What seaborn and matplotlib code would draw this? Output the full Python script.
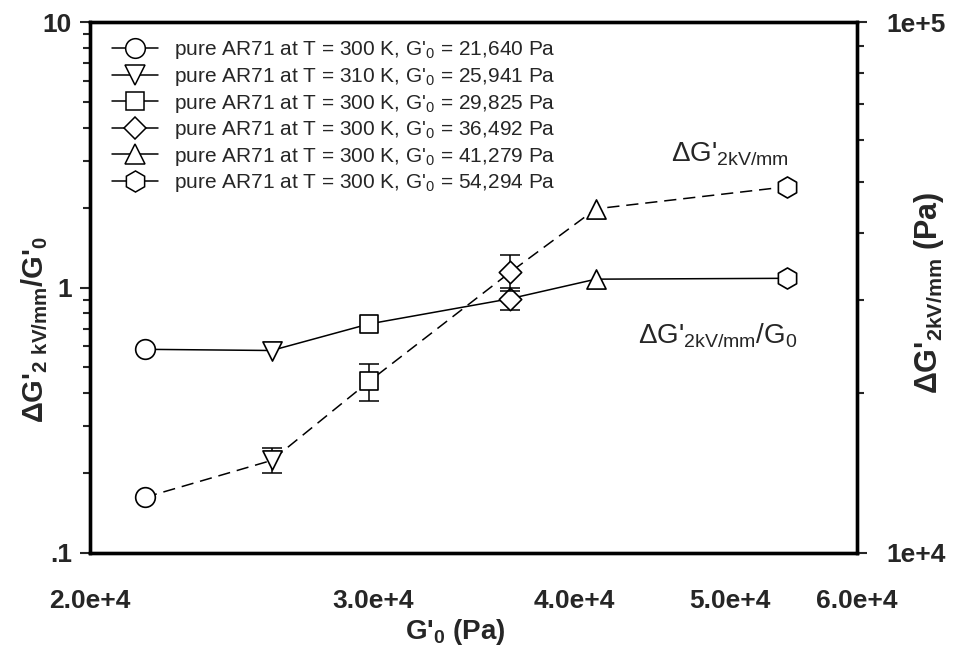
import matplotlib
matplotlib.use("Agg")
import matplotlib.pyplot as plt
import numpy as np
import pandas as pd
import seaborn as sns
from matplotlib.lines import Line2D
from matplotlib.ticker import FixedLocator, FixedFormatter, LogLocator, NullFormatter, NullLocator

# Storage modulus without field, one sample per point
g0 = [21640, 25941, 29825, 36492, 41279, 54294]
temps = [300, 310, 300, 300, 300, 300]
markers = ["o", "v", "s", "D", "^", "h"]

# Relative electrorheological response (left axis)
ratio = [0.585, 0.579, 0.729, 0.907, 1.075, 1.083]
ratio_err = [0, 0, 0, 0.087, 0, 0]

# Absolute response at 2 kV/mm in Pa (right axis)
delta_g = [12730, 14940, 21040, 33750, 44480, 48960]
delta_g_err = [0, 800, 1700, 2660, 0, 0]

x_ticks = [2.0e4, 3.0e4, 4.0e4, 5.0e4, 6.0e4]
x_tick_labels = ["2.0e+4", "3.0e+4", "4.0e+4", "5.0e+4", "6.0e+4"]

sns.set_style("white")
plt.rcParams["font.family"] = ["Liberation Sans", "DejaVu Sans"]
plt.rcParams["mathtext.default"] = "regular"

labels = [f"pure AR71 at T = {t} K, G'$_0$ = {g:,} Pa" for t, g in zip(temps, g0)]
df = pd.DataFrame({"g0": g0, "ratio": ratio, "ratio_err": ratio_err,
                   "delta_g": delta_g, "delta_g_err": delta_g_err,
                   "sample": labels})
marker_map = dict(zip(labels, markers))
size_map = {"o": 200, "v": 190, "s": 170, "D": 130, "^": 190, "h": 230}
sizes = [size_map[m] for m in markers]

fig = plt.figure(figsize=(9.63, 6.58), dpi=100)
ax = fig.add_axes([90 / 963, 1 - 553 / 658, 767 / 963, 531 / 658])
ax.set_xscale("log")
ax.set_yscale("log")
ax.set_xlim(2e4, 6e4)
ax.set_ylim(0.1, 10)

ax2 = ax.twinx()
ax2.set_yscale("log")
ax2.set_ylim(1e4, 1e5)

lw = 1.1
# ratio series: solid line
sns.lineplot(data=df, x="g0", y="ratio", ax=ax, color="black", lw=lw, sort=True, zorder=2)
sub = df[df.ratio_err > 0]
ax.errorbar(sub.g0, sub.ratio, yerr=sub.ratio_err, fmt="none", ecolor="black",
            elinewidth=lw, capsize=7, capthick=lw, zorder=2)
for m, s in zip(markers, sizes):
    part = df[df["sample"].map(marker_map) == m]
    sns.scatterplot(data=part, x="g0", y="ratio", marker=m, s=s, color="white",
                    edgecolor="black", linewidth=1.2, ax=ax, zorder=3, legend=False)

# absolute series: dashed line
sns.lineplot(data=df, x="g0", y="delta_g", ax=ax2, color="black", lw=lw, sort=True, zorder=2)
ax2.lines[0].set_dashes([8, 4.5])
sub = df[df.delta_g_err > 0]
ax2.errorbar(sub.g0, sub.delta_g, yerr=sub.delta_g_err, fmt="none", ecolor="black",
             elinewidth=lw, capsize=7, capthick=lw, zorder=2)
for m, s in zip(markers, sizes):
    part = df[df["sample"].map(marker_map) == m]
    sns.scatterplot(data=part, x="g0", y="delta_g", marker=m, s=s, color="white",
                    edgecolor="black", linewidth=1.2, ax=ax2, zorder=3, legend=False)

# axes cosmetics
for a in (ax, ax2):
    for sp in a.spines.values():
        sp.set_linewidth(2.4)
        sp.set_color("black")

tick_fs = 19
ax.xaxis.set_major_locator(FixedLocator(x_ticks))
ax.xaxis.set_major_formatter(FixedFormatter(x_tick_labels))
ax.xaxis.set_minor_locator(NullLocator())
ax.tick_params(axis="x", which="both", length=0, pad=26, labelsize=tick_fs)
for t in ax.get_xticklabels():
    t.set_fontweight("bold")

ax.yaxis.set_major_locator(FixedLocator([0.1, 1, 10]))
ax.yaxis.set_major_formatter(FixedFormatter([".1", "1", "10"]))
ax.yaxis.set_minor_locator(LogLocator(base=10, subs=np.arange(2, 10)))
ax.yaxis.set_minor_formatter(NullFormatter())
ax.tick_params(axis="y", which="major", direction="out", length=7, width=1.5, labelsize=tick_fs, pad=6, left=True)
ax.tick_params(axis="y", which="minor", direction="out", length=5, width=1.5, left=True)
for t in ax.get_yticklabels():
    t.set_fontweight("bold")

ax2.yaxis.set_major_locator(FixedLocator([1e4, 1e5]))
ax2.yaxis.set_major_formatter(FixedFormatter(["1e+4", "1e+5"]))
ax2.yaxis.set_minor_locator(LogLocator(base=10, subs=np.arange(2, 10)))
ax2.yaxis.set_minor_formatter(NullFormatter())
ax2.tick_params(axis="y", which="major", direction="out", length=7, width=1.5, labelsize=tick_fs, pad=14, right=True)
ax2.tick_params(axis="y", which="minor", direction="out", length=5, width=1.5, right=True)
for t in ax2.get_yticklabels():
    t.set_fontweight("bold")

ax.set_xlabel("G'$_0$ (Pa)", fontsize=20, fontweight="bold")
ax.xaxis.set_label_coords(0.476, -0.12)
ax.set_ylabel("\u0394G'$_{2\\ kV/mm}$/G'$_0$", fontsize=21, fontweight="bold")
ax.yaxis.set_label_coords(-0.052, 0.42)
ax2.set_ylabel("\u0394G'$_{2kV/mm}$ (Pa)", fontsize=22, fontweight="bold", rotation=90)
ax2.yaxis.set_label_coords(1.072, 0.49)

ax2.text(0.757, 0.737, "\u0394G'$_{2kV/mm}$", transform=ax2.transAxes, fontsize=20)
ax2.text(0.714, 0.395, "\u0394G'$_{2kV/mm}$/G$_0$", transform=ax2.transAxes, fontsize=20)

handles = [Line2D([0], [0], color="black", lw=lw, marker=m, markersize=np.sqrt(s),
                  markerfacecolor="white", markeredgecolor="black", markeredgewidth=1.1)
           for m, s in zip(markers, sizes)]
ax2.legend(handles, labels, loc="upper left", bbox_to_anchor=(0.018, 0.983), frameon=False,
           fontsize=15, handlelength=2.2, handletextpad=0.75, labelspacing=0.22, borderaxespad=0)

fig.savefig("out.png", dpi=100)
